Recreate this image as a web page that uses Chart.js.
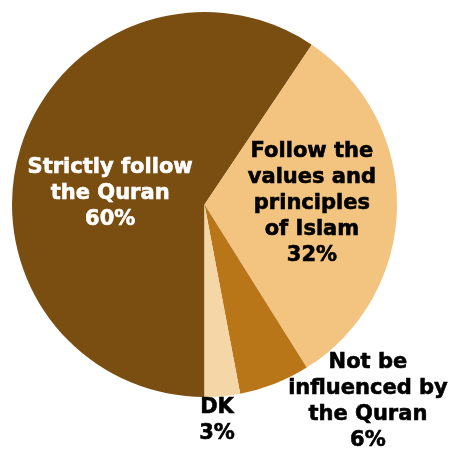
<!DOCTYPE html>
<html>
<head>
<meta charset="utf-8">
<script src="https://cdn.jsdelivr.net/npm/chart.js@4/dist/chart.umd.min.js"></script>
<style>
  html, body { margin: 0; padding: 0; background: #ffffff; }
  #wrap { width: 451px; height: 449px; }
</style>
</head>
<body>
<div id="wrap"><canvas id="c" width="451" height="449"></canvas></div>
<script>
// Survey answers and shares (percent)
const categories = [
  "Strictly follow the Quran",
  "Follow the values and principles of Islam",
  "Not be influenced by the Quran",
  "DK"
];
const shares = [60, 32, 6, 3];

// Label lines shown on each slice
const labelLines = [
  ["Strictly follow", "the Quran", "60%"],
  ["Follow the", "values and", "principles", "of Islam", "32%"],
  ["Not be", "influenced by", "the Quran", "6%"],
  ["DK", "3%"]
];

const sliceColors = ["#7A4E11", "#F2C480", "#B97619", "#F5D6A6"];
const labelColors = ["#ffffff", "#000000", "#000000", "#000000"];
// label block centre, as a fraction of the radius from the pie centre
const labelAnchors = [
  [-0.49, -0.057],
  [0.558, -0.005],
  [0.849, 1.026],
  [0.065, 1.122]
];

const sliceLabels = {
  id: "sliceLabels",
  afterDatasetsDraw(chart) {
    const ctx = chart.ctx;
    const meta = chart.getDatasetMeta(0);
    ctx.save();
    ctx.font = "bold 21px 'DejaVu Sans', Verdana, sans-serif";
    ctx.textAlign = "center";
    ctx.textBaseline = "middle";
    const lh = 26;
    meta.data.forEach((arc, i) => {
      const r = arc.outerRadius;
      const cx = arc.x + labelAnchors[i][0] * r;
      const cy = arc.y + labelAnchors[i][1] * r;
      const lines = labelLines[i];
      const y0 = cy - (lines.length - 1) * lh / 2;
      ctx.fillStyle = labelColors[i];
      ctx.strokeStyle = labelColors[i];
      ctx.lineWidth = 0.6;
      lines.forEach((t, k) => {
        ctx.fillText(t, cx, y0 + k * lh);
        ctx.strokeText(t, cx, y0 + k * lh);
      });
    });
    ctx.restore();
  }
};

new Chart(document.getElementById("c"), {
  type: "pie",
  data: {
    labels: categories,
    datasets: [{
      data: shares,
      backgroundColor: sliceColors,
      borderWidth: 0
    }]
  },
  options: {
    responsive: false,
    animation: false,
    rotation: 180,
    layout: { padding: { left: 12, top: 12, right: 54, bottom: 52 } },
    plugins: {
      legend: { display: false },
      tooltip: { enabled: false }
    }
  },
  plugins: [sliceLabels]
});
</script>
</body>
</html>
